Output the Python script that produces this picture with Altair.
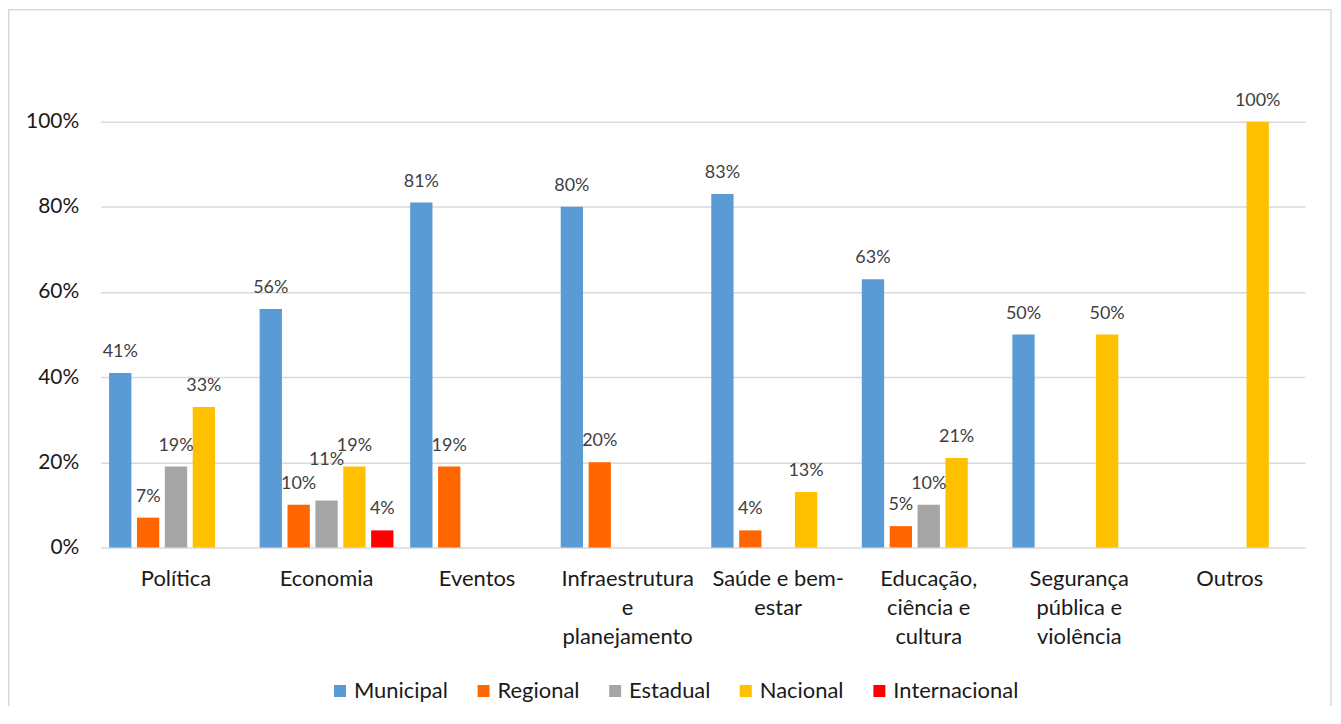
import json
import altair as alt
import pandas as pd

categories = [
    "Política",
    "Economia",
    "Eventos",
    "Infraestrutura e planejamento",
    "Saúde e bem-estar",
    "Educação, ciência e cultura",
    "Segurança pública e violência",
    "Outros",
]
category_lines = {
    "Infraestrutura e planejamento": ["Infraestrutura", "e", "planejamento"],
    "Saúde e bem-estar": ["Saúde e bem-", "estar"],
    "Educação, ciência e cultura": ["Educação,", "ciência e", "cultura"],
    "Segurança pública e violência": ["Segurança", "pública e", "violência"],
}
series = ["Municipal", "Regional", "Estadual", "Nacional", "Internacional"]
colors = ["#5B9BD5", "#FF6600", "#A5A5A5", "#FFC000", "#FF0000"]

# values in percent, None = no bar
municipal = [41, 56, 81, 80, 83, 63, 50, None]
regional = [7, 10, 19, 20, 4, 5, None, None]
estadual = [19, 11, None, None, None, 10, None, None]
nacional = [33, 19, None, None, 13, 21, 50, 100]
internacional = [None, 4, None, None, None, None, None, None]

rows = []
for s, vals in zip(series, [municipal, regional, estadual, nacional, internacional]):
    for c, v in zip(categories, vals):
        if v is not None:
            rows.append({"Categoria": c, "Série": s, "Valor": v / 100})
df = pd.DataFrame(rows)

FONT = "Lato"
label_expr = "(" + json.dumps(category_lines, ensure_ascii=False) + ")[datum.value] || datum.value"

base = alt.Chart(df).encode(
    x=alt.X(
        "Categoria:N",
        sort=categories,
        scale=alt.Scale(domain=categories, paddingInner=0, paddingOuter=0),
        axis=alt.Axis(
            title=None,
            labelAngle=0,
            labelExpr=label_expr,
            labelFont=FONT,
            labelFontSize=22,
            labelColor="#1a1a1a",
            labelLineHeight=29,
            labelPadding=21,
            ticks=False,
            domain=False,
            labelBaseline="top",
        ),
    ),
    xOffset=alt.XOffset(
        "Série:N",
        sort=series,
        scale=alt.Scale(domain=series, paddingInner=0.2, paddingOuter=0.3),
    ),
    y=alt.Y(
        "Valor:Q",
        scale=alt.Scale(domain=[0, 1], nice=False),
        axis=alt.Axis(
            title=None,
            values=[0, 0.2, 0.4, 0.6, 0.8, 1.0],
            format=".0%",
            labelFont=FONT,
            labelFontSize=21,
            labelColor="#1a1a1a",
            labelPadding=22,
            ticks=False,
            domain=False,
            grid=True,
            gridColor="#D9D9D9",
            gridWidth=1.5,
        ),
    ),
)

bars = base.mark_bar().encode(
    color=alt.Color(
        "Série:N",
        sort=series,
        scale=alt.Scale(domain=series, range=colors),
        legend=alt.Legend(
            title=None,
            orient="none",
            legendX=229,
            legendY=560,
            direction="horizontal",
            symbolType="square",
            symbolSize=144,
            symbolStrokeWidth=0,
            labelFont=FONT,
            labelFontSize=22,
            labelColor="#1a1a1a",
            labelOffset=3,
            columnPadding=24,
        ),
    )
)

crowded = "datum.Categoria === 'Economia' && datum['Série'] === 'Estadual'"

labels = base.mark_text(
    baseline="alphabetic",
    dy=-16,
    font=FONT,
    fontSize=18,
    color="#404040",
).encode(text=alt.Text("Valor:Q", format=".0%")).transform_filter("!(" + crowded + ")")

labels_raised = base.mark_text(
    baseline="alphabetic",
    dy=-36,
    font=FONT,
    fontSize=18,
    color="#404040",
).encode(text=alt.Text("Valor:Q", format=".0%")).transform_filter(crowded)

frame = alt.Chart(alt.Data(values=[{}])).mark_rect(
    fill=None, stroke="#D9D9D9", strokeWidth=1.5
).encode(
    x=alt.value(-92.25),
    x2=alt.value(1234),
    y=alt.value(-112.25),
    y2=alt.value(700),
)

chart = (
    alt.layer(frame, bars, labels, labels_raised)
    .properties(
        width=1208,
        height=427,
        autosize=alt.AutoSizeParams(type="none"),
        padding={"left": 93, "top": 113, "right": 28, "bottom": 158},
        background="white",
    )
    .configure_view(stroke=None)
)

chart.save("out.html", embed_options={"renderer": "svg", "actions": False})
